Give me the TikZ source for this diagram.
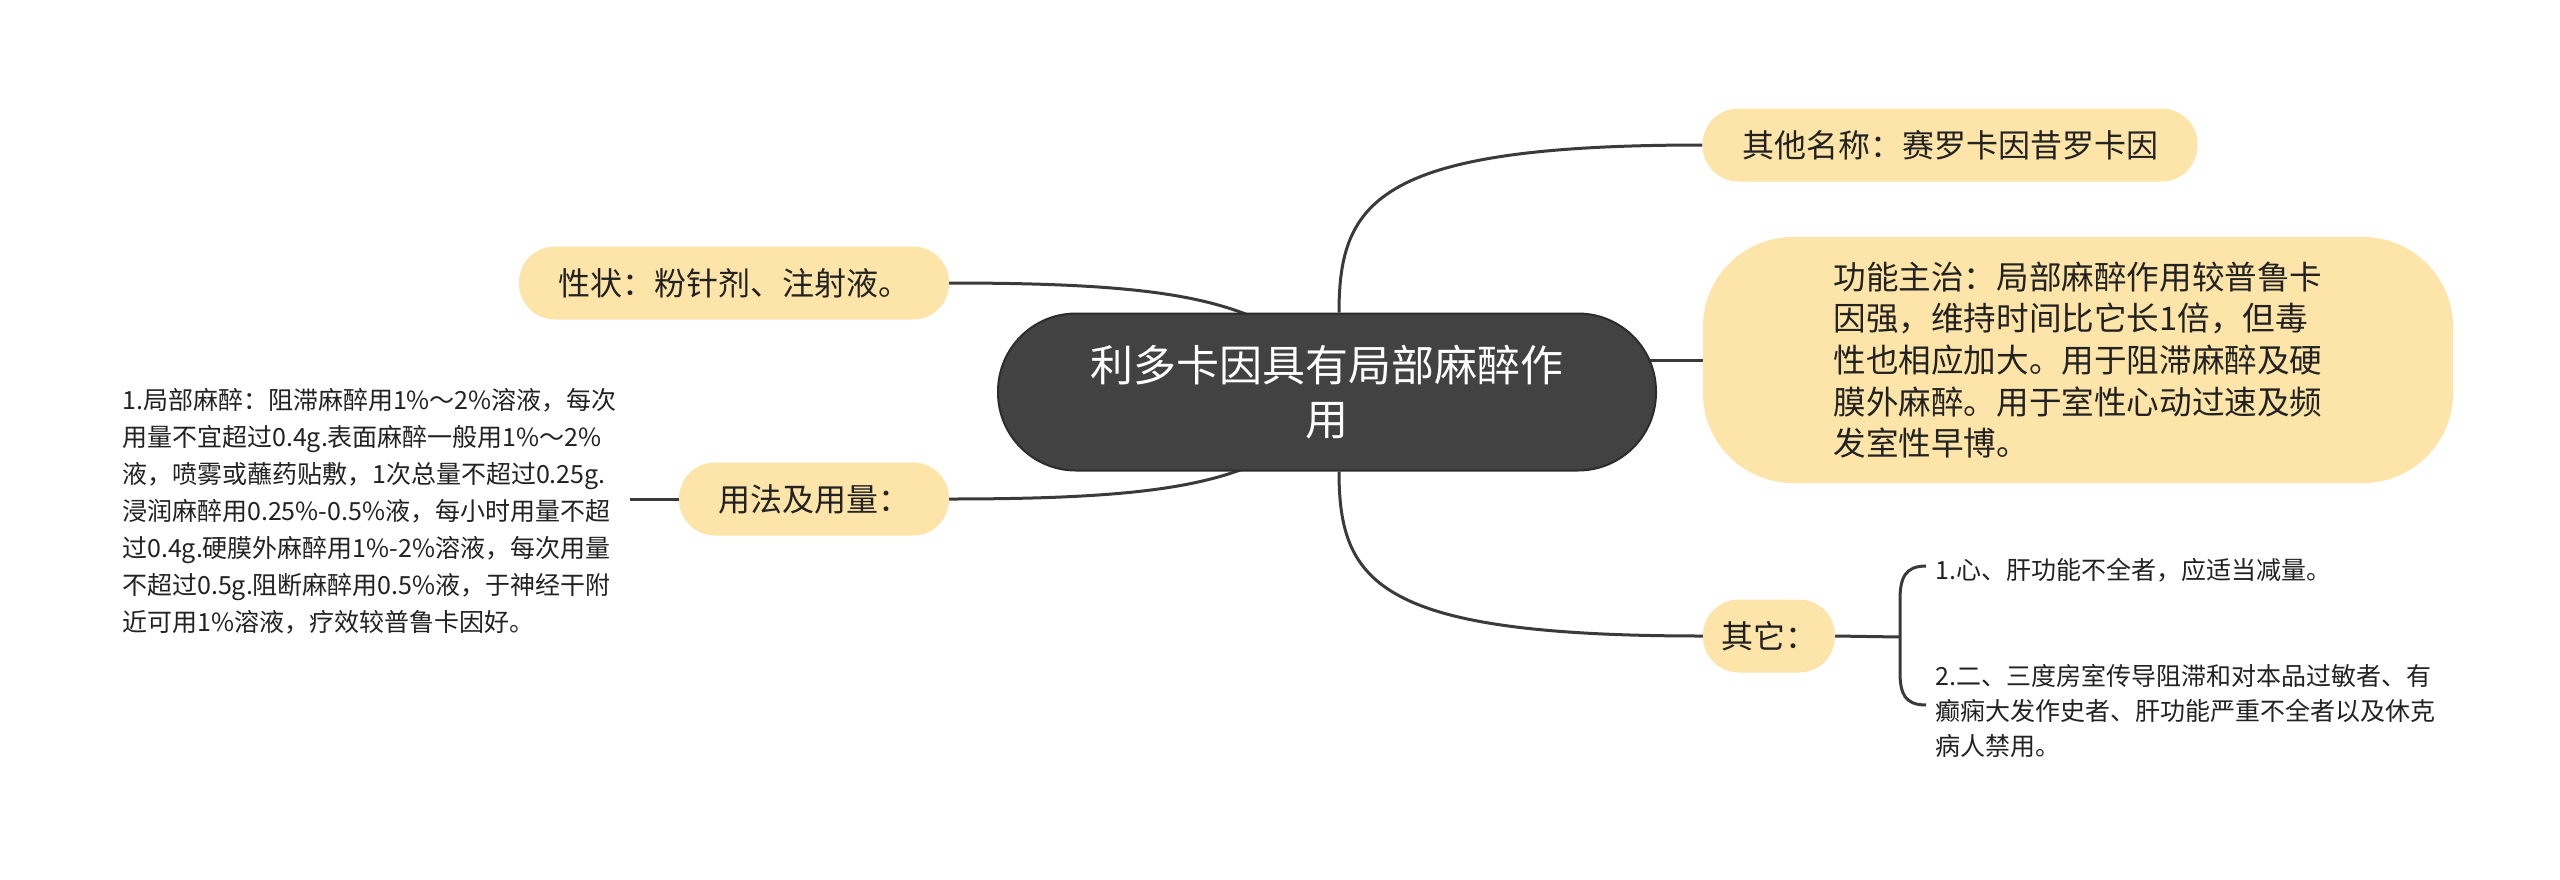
\documentclass[tikz,border=0pt]{standalone}
\usepackage{fontspec}
\setmainfont{Noto Sans CJK SC}
\usetikzlibrary{backgrounds}
\definecolor{pill}{HTML}{FDE4A8}
\definecolor{darkfill}{HTML}{424242}
\definecolor{darkline}{HTML}{2C2C2C}
\definecolor{lin}{HTML}{3A3A3A}
\definecolor{txt}{HTML}{222222}
\begin{document}
\begin{tikzpicture}[x=1pt,y=-1pt,
  conn/.style={draw=lin,line width=3pt},
  central/.style={fill=darkfill,draw=darkline,line width=2pt,rounded corners=78pt,
    minimum width=658pt,minimum height=157pt,inner sep=0pt,text=white,align=center,
    font=\fontsize{43}{54}\selectfont},
  pillnode/.style={fill=pill,rounded corners=36pt,inner sep=0pt,text=txt,
    font=\fontsize{32}{42}\selectfont,minimum height=73pt},
  small/.style={inner sep=0pt,text=txt,align=left,font=\fontsize{25}{37}\selectfont}]
\useasboundingbox (0,0) rectangle (2560,879);

\node[central] (cen) at (1327,392) {利多卡因具有局部麻醉作\\用};

\node[pillnode,minimum width=495pt] (oth) at (1950,145) {其他名称：赛罗卡因昔罗卡因};
\node[pillnode,minimum width=750pt,minimum height=246pt,rounded corners=90pt,align=left,
  font=\fontsize{32.6}{41.6}\selectfont] (fun) at (2078,360)
  {功能主治：局部麻醉作用较普鲁卡\\因强，维持时间比它长1倍，但毒\\性也相应加大。用于阻滞麻醉及硬\\膜外麻醉。用于室性心动过速及频\\发室性早博。};
\node[pillnode,minimum width=430pt] (xz) at (734,283) {性状：粉针剂、注射液。};
\node[pillnode,minimum width=270pt] (yf) at (814,499) {用法及用量：};
\node[pillnode,minimum width=132pt] (qt) at (1769,636) {其它：};

\node[small,anchor=west] (ut) at (122,511)
  {1.局部麻醉：阻滞麻醉用1\%～2\%溶液，每次\\用量不宜超过0.4g.表面麻醉一般用1\%～2\%\\液，喷雾或蘸药贴敷，1次总量不超过0.25g.\\浸润麻醉用0.25\%-0.5\%液，每小时用量不超\\过0.4g.硬膜外麻醉用1\%-2\%溶液，每次用量\\不超过0.5g.阻断麻醉用0.5\%液，于神经干附\\近可用1\%溶液，疗效较普鲁卡因好。};

\node[small,anchor=west] (it1) at (1935,570) {1.心、肝功能不全者，应适当减量。};
\node[small,anchor=west,font=\fontsize{25}{35}\selectfont] (it2) at (1935,711)
  {2.二、三度房室传导阻滞和对本品过敏者、有\\癫痫大发作史者、肝功能严重不全者以及休克\\病人禁用。};

\coordinate (bm) at (1900,637);
\coordinate (bt) at (1926,566);
\coordinate (bb) at (1926,705);

\begin{scope}[on background layer]
  \fill[white] (0,0) rectangle (2560,879);
  \draw[conn] ([xshift=12pt]cen.north) .. controls +(0,-113) and +(-323,0) .. (oth.west);
  \draw[conn] ([xshift=12pt]cen.south) .. controls +(0,113) and +(-323,0) .. (qt.west);
  \draw[conn] (fun.west) -- (fun.west -| cen.center);
  \draw[conn] (xz.east) .. controls +(170,0) and +(-60,-27) .. ([shift={(-67,-72)}]cen.center);
  \draw[conn] (yf.east) .. controls +(170,0) and +(-60,27) .. ([shift={(-67,70)}]cen.center);
  \draw[conn] (yf.west) -- ([xshift=13pt]yf.west -| ut.east);
  \draw[conn] (qt.east) -- (bm);
  \draw[conn] (bt) .. controls (1905,566) and (1900,578) .. (1900,600) -- (1900,672)
     .. controls (1900,694) and (1905,705) .. (bb);
\end{scope}
\end{tikzpicture}
\end{document}
